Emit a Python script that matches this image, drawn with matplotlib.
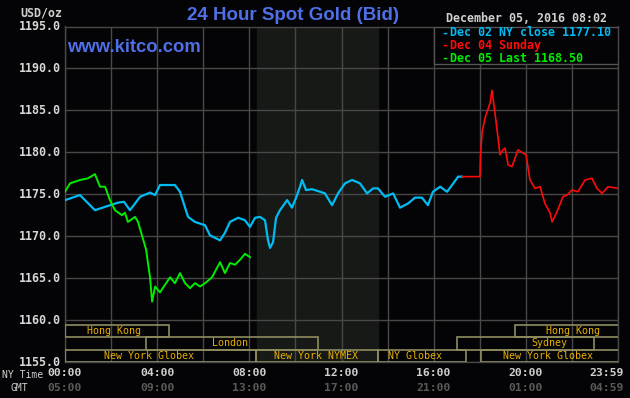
import matplotlib
matplotlib.use("Agg")
import matplotlib.pyplot as plt
from matplotlib.patches import Rectangle

# prices, hours after 00:00 NY time
dec02_hours = [0.00, 0.65, 1.30, 1.74, 2.30, 2.56, 2.82, 3.26, 3.69, 3.91, 4.12, 4.47, 4.77, 4.99,
               5.34, 5.64, 6.08, 6.29, 6.73, 6.94, 7.16, 7.51, 7.81, 8.03, 8.25, 8.46, 8.68, 8.81,
               8.90, 9.03, 9.16, 9.33, 9.64, 9.85, 10.03, 10.20, 10.29, 10.46, 10.72, 11.07, 11.28,
               11.59, 11.85, 12.15, 12.46, 12.80, 13.11, 13.37, 13.58, 13.89, 14.24, 14.54, 14.89,
               15.19, 15.49, 15.75, 15.97, 16.28, 16.58, 16.80, 17.06, 17.23]
dec02_price = [1174.3, 1174.9, 1173.1, 1173.5, 1174.0, 1174.1, 1173.1, 1174.7, 1175.2, 1174.9, 1176.1,
               1176.1, 1176.1, 1175.3, 1172.3, 1171.7, 1171.3, 1170.1, 1169.5, 1170.4, 1171.7, 1172.2,
               1171.9, 1171.1, 1172.2, 1172.3, 1171.9, 1169.5, 1168.6, 1169.3, 1172.2, 1173.1, 1174.3,
               1173.4, 1174.6, 1175.9, 1176.7, 1175.5, 1175.6, 1175.3, 1175.1, 1173.7, 1175.1, 1176.3,
               1176.7, 1176.3, 1175.1, 1175.7, 1175.7, 1174.7, 1175.1, 1173.4, 1173.9, 1174.6, 1174.6,
               1173.7, 1175.3, 1175.9, 1175.3, 1176.1, 1177.1, 1177.1]

dec04_hours = [17.23, 18.01, 18.03, 18.10, 18.23, 18.45, 18.53, 18.66, 18.79, 18.88, 19.01, 19.10,
               19.23, 19.40, 19.66, 19.83, 20.01, 20.18, 20.40, 20.62, 20.83, 21.05, 21.14, 21.35,
               21.61, 21.79, 22.00, 22.26, 22.57, 22.87, 23.09, 23.31, 23.57, 24.00]
dec04_price = [1177.1, 1177.1, 1179.4, 1182.4, 1184.1, 1185.9, 1187.4, 1184.7, 1181.8, 1179.7, 1180.3,
               1180.5, 1178.5, 1178.3, 1180.3, 1180.0, 1179.7, 1176.7, 1175.7, 1175.9, 1173.9, 1172.8,
               1171.7, 1172.9, 1174.7, 1174.9, 1175.5, 1175.3, 1176.7, 1176.9, 1175.7, 1175.1, 1175.9,
               1175.7]

dec05_hours = [0.00, 0.22, 0.65, 1.00, 1.30, 1.52, 1.74, 1.95, 2.17, 2.47, 2.60, 2.73, 3.04, 3.17,
               3.34, 3.52, 3.60, 3.69, 3.78, 3.91, 4.12, 4.56, 4.77, 4.99, 5.21, 5.43, 5.64, 5.86,
               6.08, 6.38, 6.73, 6.94, 7.16, 7.38, 7.60, 7.81, 8.03]
dec05_price = [1175.3, 1176.3, 1176.7, 1176.9, 1177.4, 1175.9, 1175.9, 1174.3, 1173.1, 1172.5, 1172.8,
               1171.7, 1172.3, 1171.7, 1170.1, 1168.4, 1166.8, 1165.1, 1162.2, 1164.0, 1163.3, 1165.1,
               1164.4, 1165.6, 1164.4, 1163.8, 1164.4, 1164.0, 1164.4, 1165.1, 1166.9, 1165.6, 1166.8,
               1166.6, 1167.2, 1167.9, 1167.5]

legend_labels = ["Dec 02 NY close 1177.10", "Dec 04 Sunday", "Dec 05 Last 1168.50"]

y_ticks = [1155, 1160, 1165, 1170, 1175, 1180, 1185, 1190, 1195]
x_ticks = [0, 4, 8, 12, 16, 20, 24]
ny_labels = ["00:00", "04:00", "08:00", "12:00", "16:00", "20:00", "23:59"]
gmt_labels = ["05:00", "09:00", "13:00", "17:00", "21:00", "01:00", "04:59"]

# trading sessions: name, start, end, row (0 top), where the name sits
session_names = ["Hong Kong", "Hong Kong", "London", "Sydney",
                 "New York Globex", "New York NYMEX", "NY Globex", "New York Globex"]
session_start = [0, 19.53, 3.53, 17.03, 0, 8.30, 13.57, 18.05]
session_end = [4.50, 24.5, 11.0, 22.97, 8.29, 13.57, 17.39, 24.5]
session_row = [0, 0, 1, 1, 2, 2, 2, 2]
session_text_x = [2.13, 22.05, 7.16, 21.0, 3.65, 10.9, 15.2, 20.96]
row_top = [1159.4, 1158.0, 1156.45]
row_bottom = [1158.0, 1156.45, 1155.0]

shade_start, shade_end = 8.33, 13.58

bg = "#040406"
grid_c = "#484848"
cyan = "#00bcf2"
red = "#ff0a0a"
green = "#00ee00"
mono = "DejaVu Sans Mono"

W, H = 630, 398
fig = plt.figure(figsize=(W / 100, H / 100), dpi=100, facecolor=bg)
ax = fig.add_axes([65 / W, 1 - 362 / H, 553 / W, 335.5 / H], facecolor=bg)

def fx(x, y):
    return x / W, 1 - y / H

ax.set_xlim(0, 24)
ax.set_ylim(1155, 1195)
ax.set_xticks([i * 2 for i in range(13)])
ax.set_yticks(y_ticks)
ax.grid(True, color=grid_c, linewidth=1)
ax.tick_params(length=0, labelbottom=False, labelleft=False)
for s in ax.spines.values():
    s.set_color(grid_c)
    s.set_linewidth(1)

ax.axvspan(shade_start, shade_end, color="#161916", zorder=0.5)

ax.plot(dec02_hours, dec02_price, color=cyan, lw=1.6, zorder=3)
ax.plot(dec04_hours, dec04_price, color=red, lw=1.2, zorder=3)
ax.plot(dec05_hours, dec05_price, color=green, lw=1.4, zorder=3)

# session boxes
for name, a, b, r, tx in zip(session_names, session_start, session_end, session_row, session_text_x):
    ax.add_patch(Rectangle((a, row_bottom[r]), b - a, row_top[r] - row_bottom[r],
                           fill=False, edgecolor="#8f8c5e", lw=1.2, zorder=4))
    ax.text(tx, (row_top[r] + row_bottom[r]) / 2, name, color="#e8b000", fontsize=7.2,
            family=mono, ha="center", va="center", zorder=5)

# legend box
ax.add_patch(Rectangle((369 / 553, 298 / 335.5), 184 / 553, 37.5 / 335.5, transform=ax.transAxes,
                       facecolor=bg, edgecolor="#555555", lw=1, zorder=6))
for i, (lab, c) in enumerate(zip(legend_labels, [cyan, red, green])):
    fig.text(*fx(444.5, 33 + i * 12.5), "-", color=c, fontsize=8.4, family=mono,
             fontweight="bold", ha="center", va="center", zorder=7)
    fig.text(*fx(450, 33 + i * 12.5), lab, color=c, fontsize=8.4, family=mono,
             fontweight="bold", ha="left", va="center", zorder=7)

# y labels
for v in y_ticks:
    yp = 26.5 + (1195 - v) * 335.5 / 40
    fig.text(*fx(61, yp), "%.1f" % v, color="#d8d8d8", fontsize=8.4, family=mono,
             fontweight="bold", ha="right", va="center")
fig.text(*fx(20, 13), "USD/oz", color="#d0d0d0", fontsize=8.4, family=mono,
         fontweight="bold", ha="left", va="center")

# x labels
for h, ny, gmt in zip(x_ticks, ny_labels, gmt_labels):
    xp = 65 + h * 553 / 24
    ha = "center"
    if h == 24:
        xp, ha = 624, "right"
    fig.text(*fx(xp, 373), ny, color="#d0d0d0", fontsize=8.2, family=mono,
             fontweight="bold", ha=ha, va="center")
    fig.text(*fx(xp, 388), gmt, color="#5a5a5a", fontsize=8.2, family=mono,
             fontweight="bold", ha=ha, va="center")
fig.text(*fx(2, 375), "NY Time", color="#d0d0d0", fontsize=7, family=mono, ha="left", va="center")
fig.text(*fx(19, 388), "GMT", color="#d0d0d0", fontsize=7, family=mono, ha="center", va="center")

# titles
fig.text(*fx(293, 15), "24 Hour Spot Gold (Bid)", color="#4f6fe6", fontsize=13.5,
         family="Liberation Sans", fontweight="bold", ha="center", va="center")
fig.text(*fx(67, 48), "www.kitco.com", color="#4f6fe6", fontsize=13.3,
         family="Liberation Sans", fontweight="bold", ha="left", va="center", zorder=8)
fig.text(*fx(607, 19), "December 05, 2016 08:02", color="#d0d0d0", fontsize=8.4, family=mono,
         fontweight="bold", ha="right", va="center")

fig.savefig("out.png", dpi=100, facecolor=bg)
